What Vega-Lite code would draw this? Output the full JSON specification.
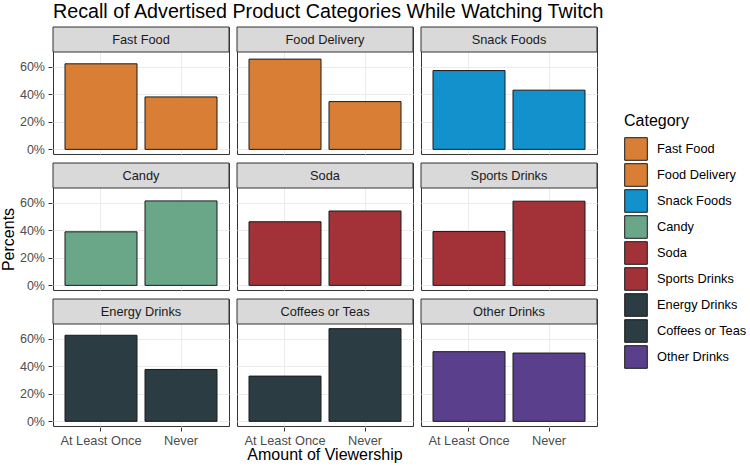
{
  "$schema": "https://vega.github.io/schema/vega-lite/v6.json",
  "padding": {"left": 0, "top": 1, "right": 0, "bottom": 0},
  "title": {"text": "Recall of Advertised Product Categories While Watching Twitch", "anchor": "start", "frame": "group", "fontSize": 19.7, "fontWeight": "normal", "color": "black", "offset": 4.7},
  "data": {"values": [
    {"category": "Fast Food", "viewership": "At Least Once", "percent": 0.62},
    {"category": "Fast Food", "viewership": "Never", "percent": 0.38},
    {"category": "Food Delivery", "viewership": "At Least Once", "percent": 0.654},
    {"category": "Food Delivery", "viewership": "Never", "percent": 0.346},
    {"category": "Snack Foods", "viewership": "At Least Once", "percent": 0.571},
    {"category": "Snack Foods", "viewership": "Never", "percent": 0.429},
    {"category": "Candy", "viewership": "At Least Once", "percent": 0.388},
    {"category": "Candy", "viewership": "Never", "percent": 0.612},
    {"category": "Soda", "viewership": "At Least Once", "percent": 0.461},
    {"category": "Soda", "viewership": "Never", "percent": 0.539},
    {"category": "Sports Drinks", "viewership": "At Least Once", "percent": 0.39},
    {"category": "Sports Drinks", "viewership": "Never", "percent": 0.61},
    {"category": "Energy Drinks", "viewership": "At Least Once", "percent": 0.624},
    {"category": "Energy Drinks", "viewership": "Never", "percent": 0.376},
    {"category": "Coffees or Teas", "viewership": "At Least Once", "percent": 0.328},
    {"category": "Coffees or Teas", "viewership": "Never", "percent": 0.672},
    {"category": "Other Drinks", "viewership": "At Least Once", "percent": 0.505},
    {"category": "Other Drinks", "viewership": "Never", "percent": 0.495}
  ]},
  "spacing": 6,
  "vconcat": [
    {
      "transform": [{"filter": {"field": "category", "oneOf": ["Fast Food", "Food Delivery", "Snack Foods"]}}],
      "facet": {"column": {"field": "category", "type": "nominal", "sort": ["Fast Food", "Food Delivery", "Snack Foods"], "title": null, "header": {"labels": false}}},
      "spacing": 6,
      "spec": {
        "width": 176, "height": 127,
        "layer": [
          {"mark": {"type": "bar", "stroke": "#1A1A1A", "strokeWidth": 1},
           "encoding": {
             "x": {"field": "viewership", "type": "nominal", "sort": ["At Least Once", "Never"], "scale": {"paddingInner": 0.1, "paddingOuter": 0.15},
                   "axis": {"title": null, "labels": false, "ticks": false, "domain": false, "grid": true, "bandPosition": 0.5, "gridColor": "#EBEBEB", "gridWidth": 1}},
             "y": {"field": "percent", "type": "quantitative", "scale": {"domain": [-0.0336, 0.8868], "nice": false, "zero": false},
                   "axis": {"title": null, "values": [0, 0.1, 0.2, 0.3, 0.4, 0.5, 0.6, 0.7], "labelExpr": "round(datum.value*10) % 2 == 0 ? format(datum.value, '.0%') : ''", "domain": false, "tickSize": 4, "tickColor": {"condition": {"test": "round(datum.value*10) % 2 == 1", "value": "transparent"}, "value": "#333333"}, "gridColor": "#EBEBEB", "gridWidth": {"condition": {"test": "round(datum.value*10) % 2 == 1", "value": 0.5}, "value": 1}, "labelFontSize": 12.5, "labelColor": "#4D4D4D", "labelPadding": 3.5}},
             "fill": {"field": "category", "type": "nominal",
                      "scale": {"domain": ["Fast Food", "Food Delivery", "Snack Foods", "Candy", "Soda", "Sports Drinks", "Energy Drinks", "Coffees or Teas", "Other Drinks"],
                                "range": ["#D97F35", "#D97F35", "#1391CD", "#6AA688", "#A23238", "#A23238", "#2B3C43", "#2B3C43", "#593F8C"]},
                      "legend": {"title": "Category", "orient": "none", "legendX": 571, "legendY": 86}}
           }},
          {"transform": [{"filter": "datum.viewership == 'Never'"}],
           "mark": {"type": "rect", "fill": "#D9D9D9", "stroke": "#333333", "strokeWidth": 1},
           "encoding": {"y": {"datum": 0.7056}, "y2": {"datum": 0.8868}}},
          {"transform": [{"filter": "datum.viewership == 'Never'"}],
           "mark": {"type": "text", "fontSize": 12.8, "color": "#1A1A1A", "baseline": "middle", "align": "center", "dx": 4},
           "encoding": {"text": {"field": "category"}, "x": {"datum": "At Least Once", "bandPosition": 1}, "y": {"datum": 0.7962}}}
        ]
      }
    },
    {
      "transform": [{"filter": {"field": "category", "oneOf": ["Candy", "Soda", "Sports Drinks"]}}],
      "facet": {"column": {"field": "category", "type": "nominal", "sort": ["Candy", "Soda", "Sports Drinks"], "title": null, "header": {"labels": false}}},
      "spacing": 6,
      "spec": {
        "width": 176, "height": 127,
        "layer": [
          {"mark": {"type": "bar", "stroke": "#1A1A1A", "strokeWidth": 1},
           "encoding": {
             "x": {"field": "viewership", "type": "nominal", "sort": ["At Least Once", "Never"], "scale": {"paddingInner": 0.1, "paddingOuter": 0.15},
                   "axis": {"title": null, "labels": false, "ticks": false, "domain": false, "grid": true, "bandPosition": 0.5, "gridColor": "#EBEBEB", "gridWidth": 1}},
             "y": {"field": "percent", "type": "quantitative", "scale": {"domain": [-0.0336, 0.8868], "nice": false, "zero": false},
                   "axis": {"title": "Percents", "titleFontSize": 16, "titleFontWeight": "normal", "titleColor": "black", "titlePadding": 3, "titleY": 76, "values": [0, 0.1, 0.2, 0.3, 0.4, 0.5, 0.6, 0.7], "labelExpr": "round(datum.value*10) % 2 == 0 ? format(datum.value, '.0%') : ''", "domain": false, "tickSize": 4, "tickColor": {"condition": {"test": "round(datum.value*10) % 2 == 1", "value": "transparent"}, "value": "#333333"}, "gridColor": "#EBEBEB", "gridWidth": {"condition": {"test": "round(datum.value*10) % 2 == 1", "value": 0.5}, "value": 1}, "labelFontSize": 12.5, "labelColor": "#4D4D4D", "labelPadding": 3.5}},
             "fill": {"field": "category", "type": "nominal",
                      "scale": {"domain": ["Fast Food", "Food Delivery", "Snack Foods", "Candy", "Soda", "Sports Drinks", "Energy Drinks", "Coffees or Teas", "Other Drinks"],
                                "range": ["#D97F35", "#D97F35", "#1391CD", "#6AA688", "#A23238", "#A23238", "#2B3C43", "#2B3C43", "#593F8C"]},
                      "legend": {"title": "Category", "orient": "none", "legendX": 571, "legendY": 86}}
           }},
          {"transform": [{"filter": "datum.viewership == 'Never'"}],
           "mark": {"type": "rect", "fill": "#D9D9D9", "stroke": "#333333", "strokeWidth": 1},
           "encoding": {"y": {"datum": 0.7056}, "y2": {"datum": 0.8868}}},
          {"transform": [{"filter": "datum.viewership == 'Never'"}],
           "mark": {"type": "text", "fontSize": 12.8, "color": "#1A1A1A", "baseline": "middle", "align": "center", "dx": 4},
           "encoding": {"text": {"field": "category"}, "x": {"datum": "At Least Once", "bandPosition": 1}, "y": {"datum": 0.7962}}}
        ]
      }
    },
    {
      "transform": [{"filter": {"field": "category", "oneOf": ["Energy Drinks", "Coffees or Teas", "Other Drinks"]}}],
      "facet": {"column": {"field": "category", "type": "nominal", "sort": ["Energy Drinks", "Coffees or Teas", "Other Drinks"], "title": "Amount of Viewership", "header": {"labels": false, "titleOrient": "bottom", "titleFontSize": 16, "titleFontWeight": "normal", "titleColor": "black", "titlePadding": -10}}},
      "spacing": 6,
      "spec": {
        "width": 176, "height": 127,
        "layer": [
          {"mark": {"type": "bar", "stroke": "#1A1A1A", "strokeWidth": 1},
           "encoding": {
             "x": {"field": "viewership", "type": "nominal", "sort": ["At Least Once", "Never"], "scale": {"paddingInner": 0.1, "paddingOuter": 0.15},
                   "axis": {"title": null, "labels": true, "ticks": true, "tickSize": 4, "tickColor": "#333333", "labelAngle": 0, "labelFontSize": 12.8, "labelColor": "#4D4D4D", "labelPadding": 3, "domain": false, "grid": true, "bandPosition": 0.5, "gridColor": "#EBEBEB", "gridWidth": 1}},
             "y": {"field": "percent", "type": "quantitative", "scale": {"domain": [-0.0336, 0.8868], "nice": false, "zero": false},
                   "axis": {"title": null, "values": [0, 0.1, 0.2, 0.3, 0.4, 0.5, 0.6, 0.7], "labelExpr": "round(datum.value*10) % 2 == 0 ? format(datum.value, '.0%') : ''", "domain": false, "tickSize": 4, "tickColor": {"condition": {"test": "round(datum.value*10) % 2 == 1", "value": "transparent"}, "value": "#333333"}, "gridColor": "#EBEBEB", "gridWidth": {"condition": {"test": "round(datum.value*10) % 2 == 1", "value": 0.5}, "value": 1}, "labelFontSize": 12.5, "labelColor": "#4D4D4D", "labelPadding": 3.5}},
             "fill": {"field": "category", "type": "nominal",
                      "scale": {"domain": ["Fast Food", "Food Delivery", "Snack Foods", "Candy", "Soda", "Sports Drinks", "Energy Drinks", "Coffees or Teas", "Other Drinks"],
                                "range": ["#D97F35", "#D97F35", "#1391CD", "#6AA688", "#A23238", "#A23238", "#2B3C43", "#2B3C43", "#593F8C"]},
                      "legend": {"title": "Category", "orient": "none", "legendX": 571, "legendY": 86}}
           }},
          {"transform": [{"filter": "datum.viewership == 'Never'"}],
           "mark": {"type": "rect", "fill": "#D9D9D9", "stroke": "#333333", "strokeWidth": 1},
           "encoding": {"y": {"datum": 0.7056}, "y2": {"datum": 0.8868}}},
          {"transform": [{"filter": "datum.viewership == 'Never'"}],
           "mark": {"type": "text", "fontSize": 12.8, "color": "#1A1A1A", "baseline": "middle", "align": "center", "dx": 4},
           "encoding": {"text": {"field": "category"}, "x": {"datum": "At Least Once", "bandPosition": 1}, "y": {"datum": 0.7962}}}
        ]
      }
    }
  ],
  "config": {
    "font": "Liberation Sans",
    "view": {"stroke": "#333333", "strokeWidth": 1},
    "legend": {"titleFontSize": 16, "titleFontWeight": "normal", "titleColor": "black", "labelFontSize": 12.8, "labelColor": "black", "symbolType": "square", "symbolSize": 511, "symbolStrokeColor": "#1A1A1A", "symbolStrokeWidth": 1, "rowPadding": -5, "labelOffset": 9, "titlePadding": 8}
  }
}
